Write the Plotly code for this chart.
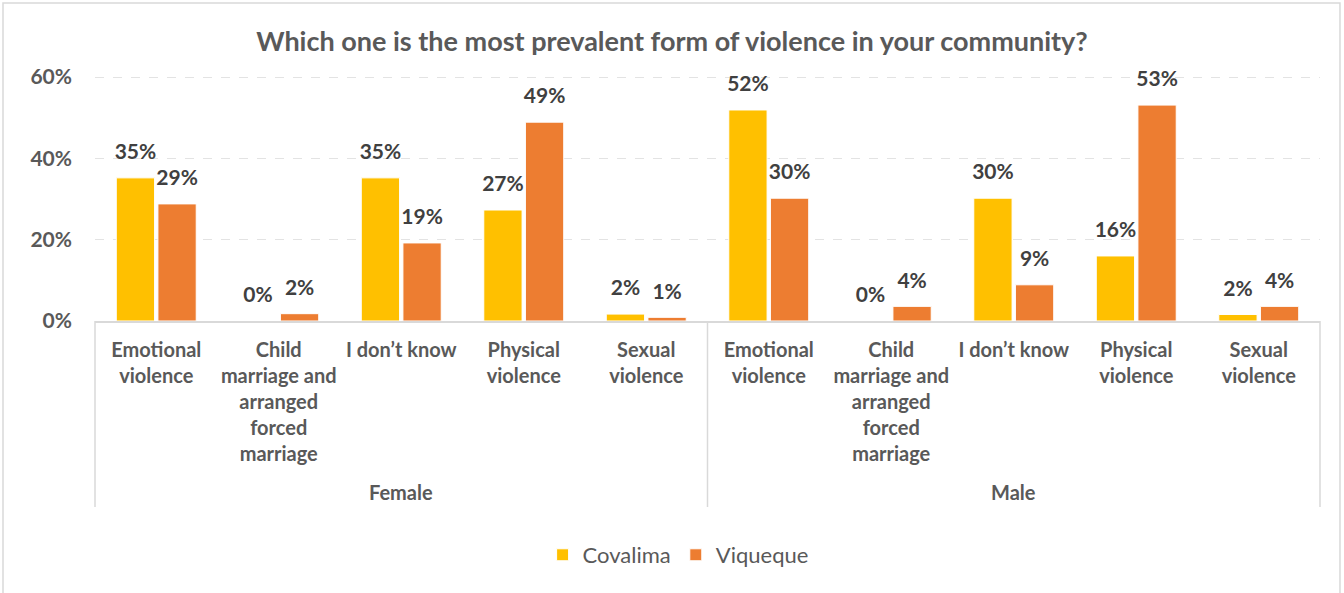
import plotly.graph_objects as go

groups = ["Female"] * 5 + ["Male"] * 5
categories = ["Emotional<br>violence", "Child<br>marriage and<br>arranged<br>forced<br>marriage",
              "I don’t know", "Physical<br>violence", "Sexual<br>violence"] * 2
covalima = [0.352, 0.0, 0.352, 0.273, 0.017, 0.519, 0.0, 0.302, 0.160, 0.016]
viqueque = [0.288, 0.018, 0.192, 0.489, 0.009, 0.302, 0.036, 0.089, 0.531, 0.036]
group_names = ["Female", "Male"]

FONT = "Lato"
GRAY = "#595959"

keys = [f"{g}|{c}" for g, c in zip(groups, categories)]

fig = go.Figure()
for name, vals, color in [("Covalima", covalima, "#FFC000"), ("Viqueque", viqueque, "#ED7D31")]:
    fig.add_trace(go.Bar(
        name=name, x=keys, y=vals, offsetgroup=name,
        marker=dict(color=color, line=dict(color="white", width=1)),
        hovertemplate="%{y:.0%}<extra>" + name + "</extra>",
    ))
for name, vals in [("Covalima", covalima), ("Viqueque", viqueque)]:
    fig.add_trace(go.Scatter(
        x=keys, y=vals, offsetgroup=name, mode="markers+text", showlegend=False,
        marker=dict(size=20, opacity=0), hoverinfo="skip",
        text=[f"{v:.0%}" for v in vals], textposition="top center",
        textfont=dict(family=FONT, size=21, color="#404040", weight="bold"),
        cliponaxis=False,
    ))

# plot area: 0% at y=321px, 60% at y=77px, range top slightly above 60% so its gridline shows
H = 244 / 0.6 * 0.605
n_groups = len(group_names)
shapes = [dict(type="rect", xref="paper", yref="paper", x0=-0.0751, x1=1.0163,
               y0=-290 / H, y1=318 / H,
               line=dict(color="#D9D9D9", width=1.5), fillcolor="rgba(0,0,0,0)", layer="below")]
for i in range(n_groups + 1):
    shapes.append(dict(type="line", xref="paper", yref="paper", x0=i / n_groups, x1=i / n_groups,
                       y0=0, y1=-186 / H, line=dict(color="#D9D9D9", width=1.5)))
annotations = [dict(text=f"<b>{g}</b>", xref="paper", yref="paper", x=(i + 0.5) / n_groups,
                    y=-171 / H, xanchor="center", yanchor="middle", showarrow=False,
                    font=dict(family=FONT, size=20, color=GRAY))
               for i, g in enumerate(group_names)]

fig.update_layout(
    width=1344, height=593,
    paper_bgcolor="white", plot_bgcolor="white",
    margin=dict(l=95, r=24, t=321 - H, b=272, autoexpand=False),
    title=dict(text="<b>Which one is the most prevalent form of violence in your community?</b>",
               x=0.5, xanchor="center", y=0.93, yanchor="middle",
               font=dict(family=FONT, size=27, color=GRAY)),
    barmode="group", bargap=0.32, bargroupgap=0.08, scattermode="group",
    font=dict(family=FONT, color=GRAY),
    showlegend=True,
    legend=dict(orientation="h", x=0.476, xanchor="center", y=-234 / H, yanchor="middle",
                font=dict(family=FONT, size=22, color=GRAY), itemwidth=30),
    shapes=shapes, annotations=annotations,
)
fig.update_yaxes(range=[0, 0.605], tickvals=[0, 0.2, 0.4, 0.6], tickformat=".0%", automargin=False,
                 showgrid=True, gridcolor="#E3E3E3", griddash="dash", gridwidth=1,
                 zeroline=False, showline=False, ticks="", ticklabelstandoff=22,
                 tickfont=dict(family=FONT, size=21, color=GRAY, weight="bold"))
fig.update_xaxes(type="category", tickvals=keys, ticktext=categories,
                 showline=True, linecolor="#D9D9D9", linewidth=1.5, automargin=False,
                 tickangle=0, ticklabelstandoff=10,
                 tickfont=dict(family=FONT, size=20, color=GRAY, weight="bold"), ticks="")

fig.write_html("out.html", config={"displayModeBar": False},
               post_script="document.body.style.margin='0';")
